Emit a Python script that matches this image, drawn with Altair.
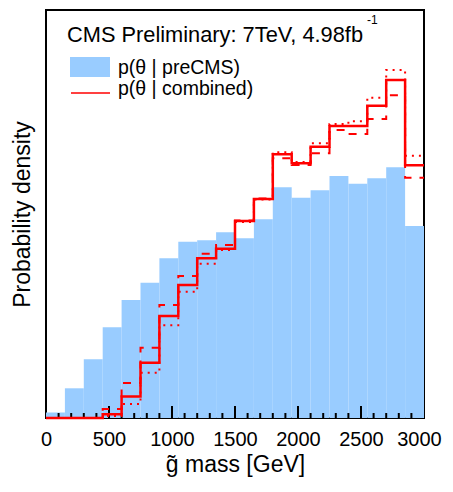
import altair as alt
import pandas as pd

# ---- data ----
bin_lo = [0, 150, 300, 450, 600, 750, 900, 1050, 1200, 1350,
          1500, 1650, 1800, 1950, 2100, 2250, 2400, 2550, 2700, 2850]
bin_hi = [150, 300, 450, 600, 750, 900, 1050, 1200, 1350, 1500,
          1650, 1800, 1950, 2100, 2250, 2400, 2550, 2700, 2850, 3000]
# p(theta | preCMS)  (arbitrary density units)
pre_cms = [5.5, 29.7, 58.7, 90.7, 118, 135.3, 159.7, 176.3, 177.7, 185.7,
           179.7, 198.7, 230.7, 220.3, 227.7, 242, 234.3, 239.7, 250.7, 192]
# p(theta | combined) central (solid)
combined = [0, 0, 0, 3.7, 21.5, 55.3, 102, 133, 159.7, 169.3,
            197, 219, 263.7, 254.7, 271.3, 292, 292, 312.3, 338, 252.7]
# variation (dashed)
combined_dash = [0, 0, 0, 9, 35, 70.3, 113, 142, 164.3, 173,
                 197.5, 219.5, 259.7, 253, 264.7, 288, 284, 299, 322.7, 240.3]
# variation (dotted)
combined_dot = [0, 0, 0, 2, 14, 45.3, 92.7, 126.3, 154.3, 168,
                196, 218.5, 265.7, 256, 274.7, 294, 296.7, 320.3, 348, 262.3]

x_label_values = [0, 500, 1000, 1500, 2000, 2500, 3000]
major_ticks = [500, 1000, 1500, 2000, 2500]
minor_ticks = [100, 200, 300, 400, 600, 700, 800, 900, 1100, 1200, 1300, 1400,
               1600, 1700, 1800, 1900, 2100, 2200, 2300, 2400, 2600, 2700,
               2800, 2900]

header_text = ["CMS Preliminary: 7TeV, 4.98fb", "-1"]
legend_labels = ["p(\u03b8 | preCMS)", "p(\u03b8 | combined)"]

# ---- styling ----
W, H = 378, 408
BLUE = "#99ccff"
RED = "#ff0000"
FONT = "Liberation Sans"

xscale = alt.Scale(domain=[0, 3000], nice=False, zero=False)
yscale = alt.Scale(domain=[0, 408], nice=False)

xaxis = alt.Axis(values=x_label_values, ticks=False, domain=False, grid=False,
                 labelFontSize=20, labelPadding=11, labelFlush=False,
                 labelOffset={"condition": {"test": "datum.value >= 3000",
                                            "value": -5},
                              "value": 0},
                 labelColor="black", format="d",
                 title="g\u0303 mass [GeV]", titleFontSize=23,
                 titleFontWeight="normal", titleColor="black", titlePadding=4)
yaxis = alt.Axis(labels=False, ticks=False, domain=False, grid=False,
                 title="Probability density", titleFontSize=23,
                 titleFontWeight="normal", titleColor="black", titlePadding=12)

X = lambda: alt.X("x:Q", scale=xscale, axis=xaxis)
Y = lambda: alt.Y("y:Q", scale=yscale, axis=yaxis)

bars_df = pd.DataFrame({"x": bin_lo, "x2": bin_hi, "y": pre_cms})
bars = alt.Chart(bars_df).mark_rect(color=BLUE).encode(
    x=X(), x2="x2:Q", y=Y(), y2=alt.datum(0))


def step_df(vals):
    return pd.DataFrame({"x": bin_lo + [bin_hi[-1]], "y": vals + [vals[-1]]})


minor_df = pd.DataFrame({"x": minor_ticks})
major_df = pd.DataFrame({"x": major_ticks})
minor = alt.Chart(minor_df).mark_rule(color="black", strokeWidth=2).encode(
    x=X(), y=alt.value(H), y2=alt.value(H - 5))
major = alt.Chart(major_df).mark_rule(color="black", strokeWidth=2).encode(
    x=X(), y=alt.value(H), y2=alt.value(H - 12))

line_dot = alt.Chart(step_df(combined_dot)).mark_line(
    interpolate="step-after", color=RED, strokeWidth=2, strokeDash=[2, 5]).encode(
    x=X(), y=Y())
line_dash = alt.Chart(step_df(combined_dash)).mark_line(
    interpolate="step-after", color=RED, strokeWidth=2, strokeDash=[8, 8]).encode(
    x=X(), y=Y())
line_solid = alt.Chart(step_df(combined)).mark_line(
    interpolate="step-after", color=RED, strokeWidth=2.5).encode(
    x=X(), y=Y())

one = pd.DataFrame({"a": [0]})
hdr = alt.Chart(one).mark_text(align="left", baseline="alphabetic", font=FONT,
                               fontSize=21.8, color="black").encode(
    x=alt.value(21), y=alt.value(32), text=alt.value(header_text[0]))
hdr_sup = alt.Chart(one).mark_text(align="left", baseline="alphabetic", font=FONT,
                                   fontSize=12, color="black").encode(
    x=alt.value(321), y=alt.value(14), text=alt.value(header_text[1]))
leg_rect = alt.Chart(one).mark_rect(color=BLUE).encode(
    x=alt.value(24), x2=alt.value(64), y=alt.value(47), y2=alt.value(67))
leg_line = alt.Chart(one).mark_rule(color=RED, strokeWidth=1.5).encode(
    x=alt.value(25), x2=alt.value(64), y=alt.value(83))
leg_t1 = alt.Chart(one).mark_text(align="left", baseline="alphabetic", font=FONT,
                                  fontSize=19.5, color="black").encode(
    x=alt.value(72), y=alt.value(64), text=alt.value(legend_labels[0]))
leg_t2 = alt.Chart(one).mark_text(align="left", baseline="alphabetic", font=FONT,
                                  fontSize=19.5, color="black").encode(
    x=alt.value(72), y=alt.value(85), text=alt.value(legend_labels[1]))

chart = alt.layer(
    bars, minor, major, line_dot, line_dash, line_solid,
    hdr, hdr_sup, leg_rect, leg_line, leg_t1, leg_t2
).properties(
    width=W, height=H,
    autosize=alt.AutoSizeParams(type="none"),
    padding={"left": 38, "top": 2, "right": 21, "bottom": 64},
).configure(font=FONT, background="white").configure_view(
    stroke="black", strokeWidth=2)

chart.save("out.html", embed_options={"renderer": "svg", "actions": False})
